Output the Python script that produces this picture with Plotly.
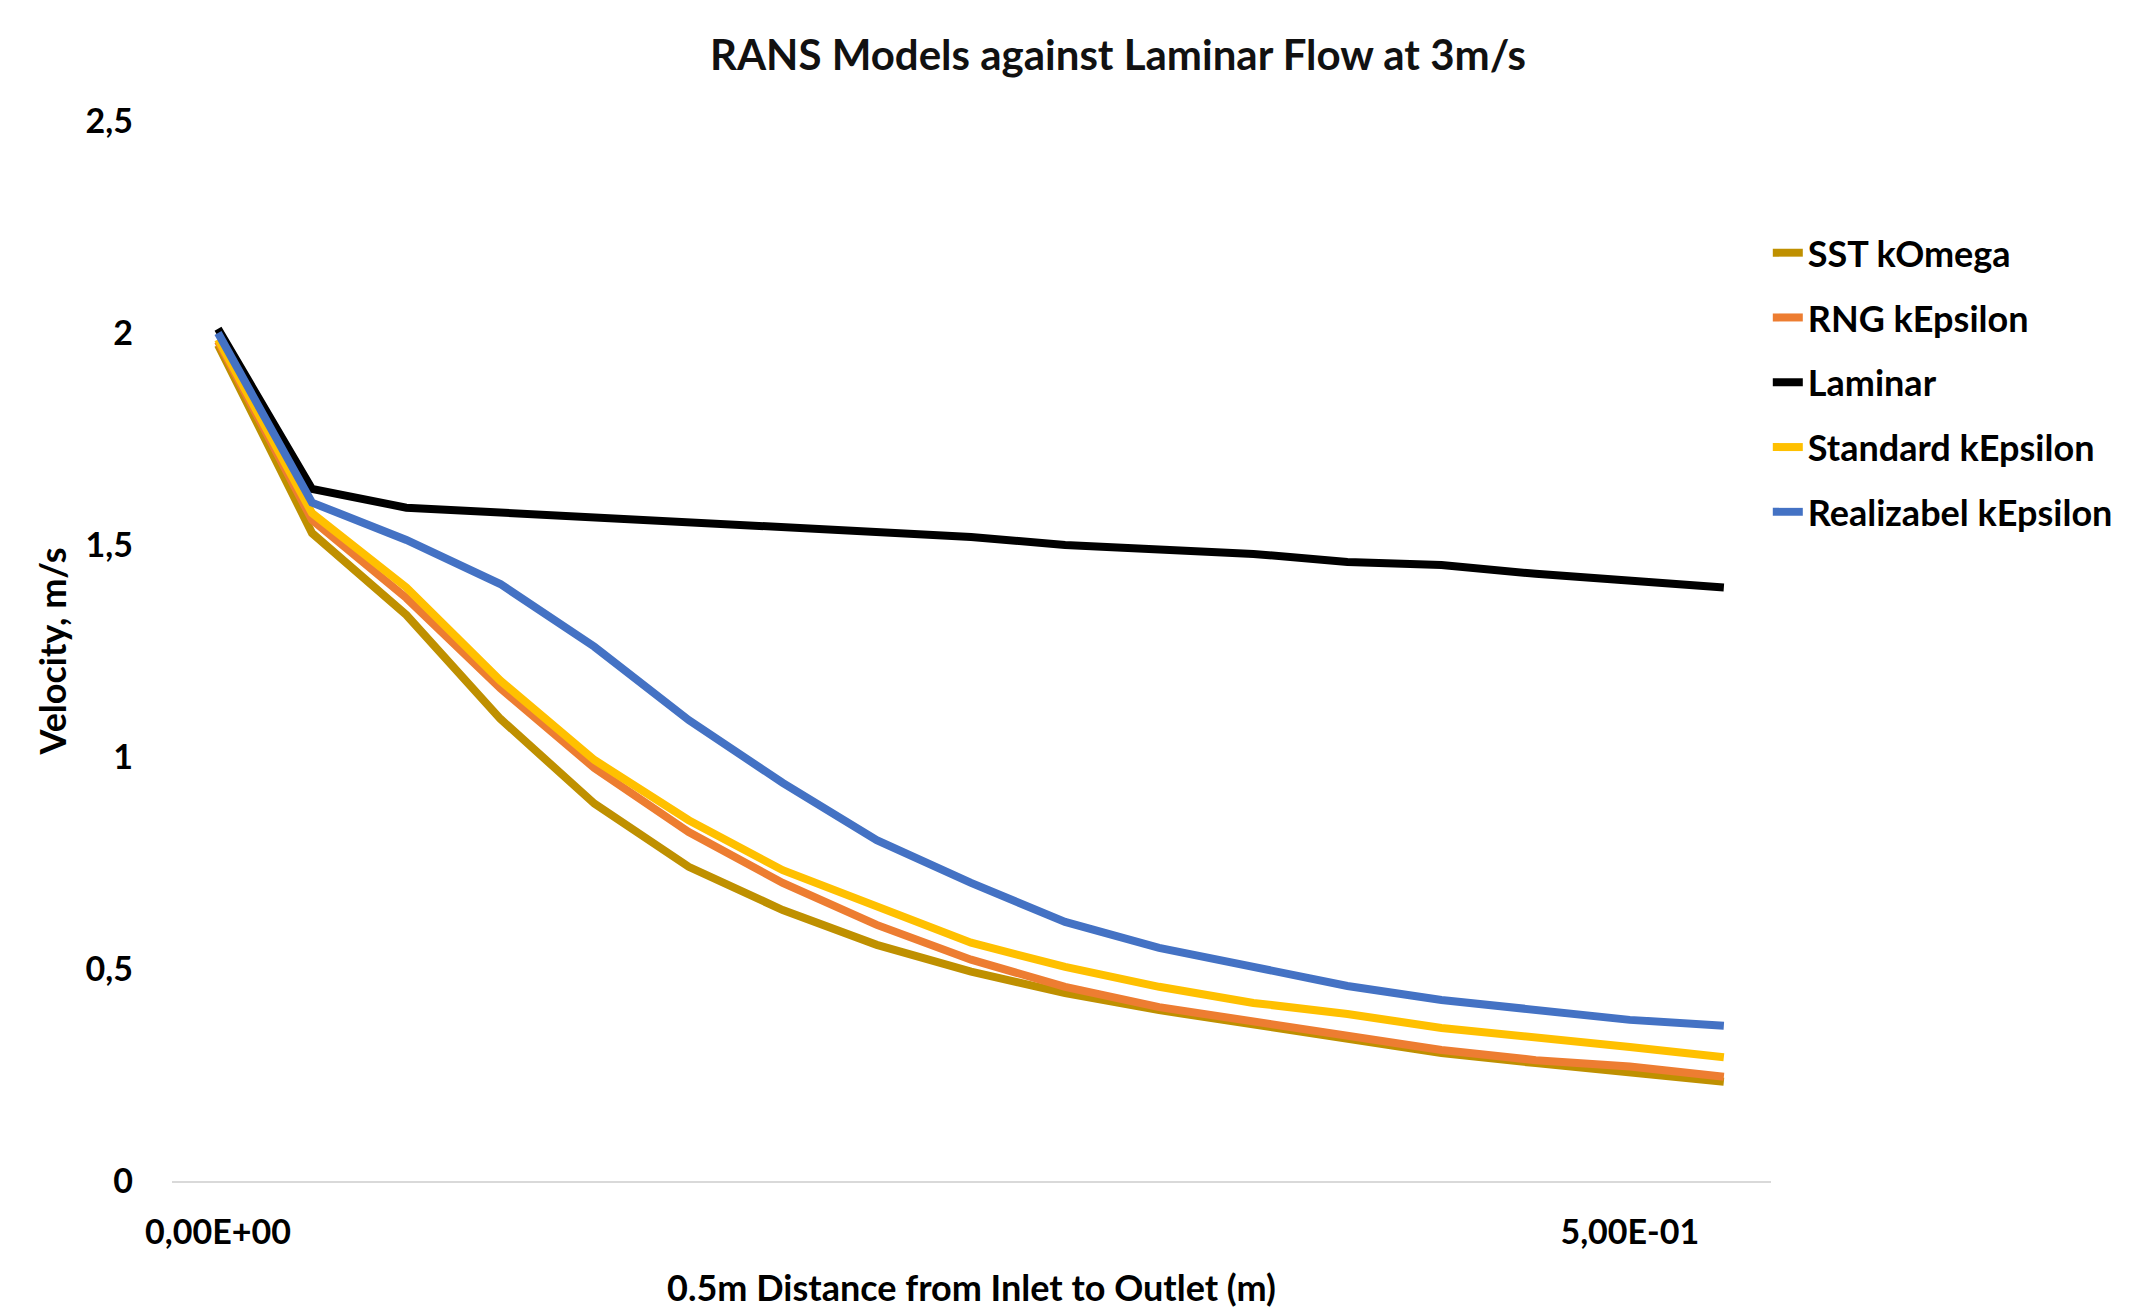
import plotly.graph_objects as go

# ---- data ----
x_dist = [0.0, 0.0333, 0.0667, 0.1, 0.1333, 0.1667, 0.2, 0.2333, 0.2667,
          0.3, 0.3333, 0.3667, 0.4, 0.4333, 0.4667, 0.5, 0.5333]

sst_komega = [1.972, 1.528, 1.335, 1.09, 0.89, 0.741, 0.639, 0.557, 0.494,
              0.443, 0.403, 0.368, 0.333, 0.302, 0.278, 0.255, 0.234]
rng_kepsilon = [1.98, 1.559, 1.375, 1.162, 0.974, 0.823, 0.703, 0.604, 0.522,
                0.458, 0.41, 0.375, 0.342, 0.309, 0.285, 0.27, 0.246]
laminar = [2.01, 1.632, 1.588, 1.577, 1.567, 1.555, 1.545, 1.532, 1.519,
           1.50, 1.488, 1.479, 1.46, 1.453, 1.432, 1.417, 1.40]
standard_kepsilon = [1.985, 1.575, 1.40, 1.18, 0.993, 0.851, 0.733, 0.646, 0.562,
                     0.505, 0.458, 0.42, 0.394, 0.361, 0.34, 0.316, 0.292]
realizable_kepsilon = [2.0, 1.60, 1.512, 1.408, 1.26, 1.087, 0.939, 0.804, 0.703,
                       0.611, 0.55, 0.505, 0.46, 0.427, 0.403, 0.38, 0.366]

series_names = ["SST kOmega", "RNG kEpsilon", "Laminar", "Standard kEpsilon", "Realizabel kEpsilon"]
series_colors = ["#BF9000", "#ED7D31", "#000000", "#FFC000", "#4472C4"]

y_tickvals = [0, 0.5, 1, 1.5, 2, 2.5]
y_ticktext = ["0", "0,5", "1", "1,5", "2", "2,5"]
x_tickvals = [0, 0.5]
x_ticktext = ["0,00E+00", "5,00E-01"]

title_text = "RANS Models against Laminar Flow at 3m/s"
x_title = "0.5m Distance from Inlet to Outlet (m)"
y_title = "Velocity, m/s"

# ---- figure ----
FONT = "Lato"
fig = go.Figure()
for name, ys, col in zip(series_names,
                         [sst_komega, rng_kepsilon, laminar, standard_kepsilon, realizable_kepsilon],
                         series_colors):
    fig.add_trace(go.Scatter(x=x_dist, y=ys, mode="lines", name=name, legendgroup=name,
                             line=dict(color=col, width=8)))

W, H = 2153, 1310
L, R, T, B = 164, 390, 113, 137

fig.update_layout(
    width=W, height=H,
    margin=dict(l=L, r=R, t=T, b=B, autoexpand=False),
    paper_bgcolor="white", plot_bgcolor="white",
    font=dict(family=FONT, color="#000000"),
    title=dict(text=title_text, x=1110 / W, xref="container", xanchor="center",
               y=1 - 47 / H, yref="container", yanchor="middle",
               font=dict(family=FONT, size=42, color="#111111", weight="bold")),
    showlegend=True,
    legend=dict(x=0.998, xanchor="left", y=0.904, yanchor="top",
                font=dict(family=FONT, size=36, color="#000000", weight="bold"),
                tracegroupgap=15, traceorder="grouped", bgcolor="rgba(0,0,0,0)",
                itemwidth=30),
    xaxis=dict(range=[-0.0163, 0.55], tickvals=x_tickvals, ticktext=x_ticktext,
               showgrid=False, zeroline=False, showline=True, linecolor="#D9D9D9", linewidth=2,
               ticks="", ticklabelstandoff=20,
               tickfont=dict(family=FONT, size=34, weight="bold"),
               title=dict(text=x_title, standoff=26,
                          font=dict(family=FONT, size=36, weight="bold"))),
    yaxis=dict(range=[0, 2.5], tickvals=y_tickvals, ticktext=y_ticktext,
               showgrid=False, zeroline=False, showline=False, ticks="",
               ticklabelstandoff=38,
               tickfont=dict(family=FONT, size=34, weight="bold"),
               title=dict(text=y_title, standoff=7,
                          font=dict(family=FONT, size=36, weight="bold"))),
)

fig.write_html("out.html")
